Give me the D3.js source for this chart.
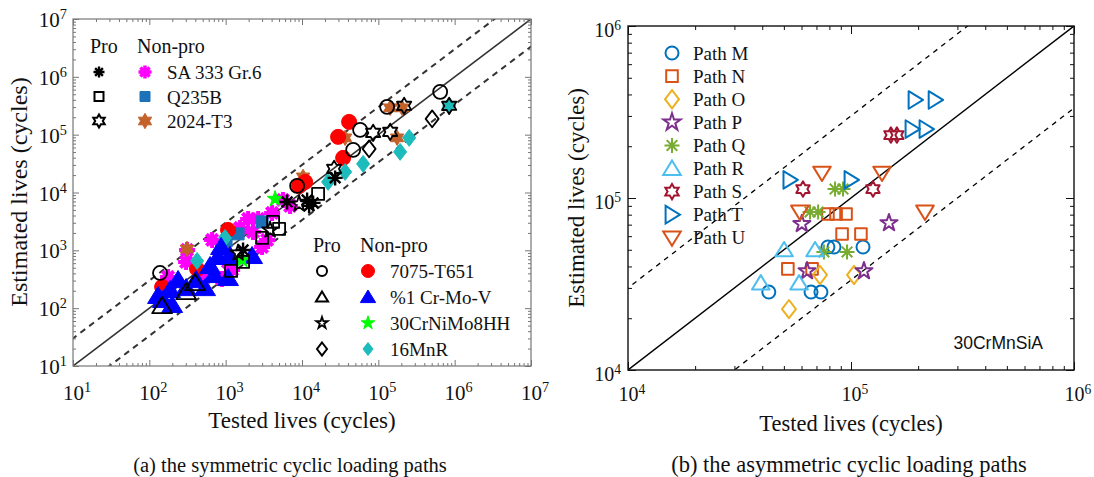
<!DOCTYPE html>
<html>
<head>
<meta charset="utf-8">
<script src="https://cdn.jsdelivr.net/npm/d3@7"></script>
<style>
  body { margin: 0; background: #fff; }
  svg text { font-family: "Liberation Serif", "Times New Roman", serif; fill: #111; }
</style>
</head>
<body>
<svg id="chart" width="1094" height="477"></svg>
<script>
// ---------- panel (a): symmetric paths, [tested, estimated] ----------
const saNon    = [[176,347],[303,630],[312,1016],[664,1514],[537,347],[897,320],[1213,458],[1968,3490],[2660,3490],[3490,1514],[3000,1146],[5650,7450],[6980,5860],[1545,2440],[1074,630],[2285,2080],[4055,4440]];
const saPro    = [[1690,1016],[6380,6870],[11670,7450],[13970,6610],[12390,5860],[27160,17900]];
const q235Non  = [[1455,1925],[1012,1455],[3000,3100]];
const q235Pro  = [[3000,1640],[4180,3100],[5010,2345],[16250,9460],[1178,441],[1690,630]];
const t3Non    = [[312,1057],[10330,18620],[36730,88100],[142900,291000],[205000,291000],[176200,88100]];
const t3Pro    = [[85500,107400],[142900,111700],[26360,25590],[847000,315000],[217600,315000]];
const t651Non  = [[41400,166400],[29700,91600],[34600,39700],[10990,15240],[9160,13000],[1074,2254],[147,233],[422,476]];
const t651Pro  = [[645700,550000],[130300,302700],[57700,121000],[46800,54600],[8630,13000],[138,406]];
const crmovNon = [[130,163],[187,207],[238,307],[199,114],[303,223],[537,223],[625,537],[795,770],[870,1146],[1143,800],[1074,333],[2218,800],[151,139],[409,307],[705,375]];
const crmovPro = [[147,109],[303,191],[397,273]];
const crniNon  = [[4440,7740],[1640,683]];
const crniPro  = [[1455,902],[3820,2254],[9160,6350]];
const mnrNon   = [[253600,88100],[193000,50400],[63200,31300],[36700,22700],[21980,15240],[847000,315000],[422,656],[982,1640]];
const mnrPro   = [[507000,187600],[75700,56800]];

const legendTop    = ["SA 333 Gr.6", "Q235B", "2024-T3"];
const legendBottom = ["7075-T651", "%1 Cr-Mo-V", "30CrNiMo8HH", "16MnR"];

// ---------- panel (b): asymmetric paths, 30CrMnSiA ----------
const pathNames = ["Path M","Path N","Path O","Path P","Path Q","Path R","Path S","Path T","Path U"];
const pathM = [[42800,28400],[66200,28400],[73300,28400],[78800,51900],[83900,51900],[113200,51900]];
const pathN = [[52100,38700],[66900,38700],[78800,80800],[85700,80800],[95000,80800],[91200,61800],[110800,61800]];
const pathO = [[52700,22600],[72600,35700],[103200,35700]];
const pathP = [[60200,70700],[63500,37600],[114300,37600],[148000,71600]];
const pathQ = [[65500,82900],[71200,82900],[84800,112700],[92100,112700],[75600,48600],[96000,48600]];
const pathR = [[39400,32000],[50100,49900],[58500,32000],[69000,49900]];
const pathS = [[60900,112700],[125500,112700],[151000,232300],[160600,232300]];
const pathT = [[53200,127400],[100000,127400],[187700,251700],[216900,251700],[193700,371500],[238300,371500]];
const pathU = [[59000,82900],[74100,139700],[137800,139700],[214700,82900]];

const svg = d3.select("#chart");

// ---------- marker shapes ----------
function starPath(n, r, inner) {
  const pts = [];
  for (let i = 0; i < 2 * n; i++) {
    const a = -Math.PI / 2 + i * Math.PI / n;
    const rr = i % 2 ? r * inner : r;
    pts.push((rr * Math.cos(a)).toFixed(2) + "," + (rr * Math.sin(a)).toFixed(2));
  }
  return "M" + pts.join("L") + "Z";
}

function shape(type, r) {
  switch (type) {
    case "circle":    return `M${r},0A${r},${r} 0 1,1 ${-r},0A${r},${r} 0 1,1 ${r},0Z`;
    case "square":    return `M${-r},${-r}H${r}V${r}H${-r}Z`;
    case "diamond":   return `M0,${-r * 1.3}L${r},0L0,${r * 1.3}L${-r},0Z`;
    case "triangle":  return `M0,${-r}L${r * 1.1},${r * 0.8}L${-r * 1.1},${r * 0.8}Z`;
    case "down":      return `M0,${r}L${r * 1.1},${-r * 0.8}L${-r * 1.1},${-r * 0.8}Z`;
    case "right":     return `M${r},0L${-r * 0.8},${r * 1.1}L${-r * 0.8},${-r * 1.1}Z`;
    case "pentagram": return starPath(5, r * 1.2, 0.382);
    case "hexagram":  return starPath(6, r * 1.1, 0.577);
    case "asterisk": {
      let d = "";
      for (let i = 0; i < 4; i++) {
        const a = i * Math.PI / 4;
        const dx = (r * Math.cos(a)).toFixed(2), dy = (r * Math.sin(a)).toFixed(2);
        d += `M${-dx},${-dy}L${dx},${dy}`;
      }
      return d;
    }
  }
}

// ---------- axes helpers ----------
function decadeTicks(dom) {
  const major = [], minor = [];
  for (let e = Math.log10(dom[0]); e <= Math.log10(dom[1]); e++) {
    major.push(Math.pow(10, e));
    if (e < Math.log10(dom[1])) for (let m = 2; m <= 9; m++) minor.push(m * Math.pow(10, e));
  }
  return { major, minor };
}

function drawFrame(g, p, x, y, opt) {
  const t = decadeTicks(x.domain());
  const u = decadeTicks(y.domain());
  const defs = [
    [d3.axisBottom(x), `translate(0,${p.y1})`, t],
    [d3.axisTop(x),    `translate(0,${p.y0})`, t],
    [d3.axisLeft(y),   `translate(${p.x0},0)`, u],
    [d3.axisRight(y),  `translate(${p.x1},0)`, u]
  ];
  defs.forEach(([ax, tr, tk]) => {
    [[tk.major, opt.major], [tk.minor, opt.minor]].forEach(([vals, len]) => {
      g.append("g")
        .attr("transform", tr)
        .call(ax.tickValues(vals).tickSize(-len).tickFormat(""))
        .call(s => s.select(".domain").remove())
        .call(s => s.selectAll("line").attr("stroke", opt.color).attr("stroke-width", opt.width));
    });
  });
  g.append("rect")
    .attr("x", p.x0).attr("y", p.y0)
    .attr("width", p.x1 - p.x0).attr("height", p.y1 - p.y0)
    .attr("fill", "none").attr("stroke", opt.color).attr("stroke-width", opt.frame);

  // superscript decade labels
  const pow = (sel, v) => {
    sel.append("tspan").text("10");
    sel.append("tspan").attr("dy", "-0.55em").attr("font-size", "0.68em").text(Math.round(Math.log10(v)));
  };
  t.major.forEach(v => {
    g.append("text").attr("x", x(v) + 4).attr("y", p.y1 + opt.xlab)
      .attr("text-anchor", "middle").attr("font-size", opt.font).call(pow, v);
  });
  u.major.forEach(v => {
    g.append("text").attr("x", p.x0 - opt.ylab).attr("y", y(v) + opt.ydy)
      .attr("text-anchor", "end").attr("font-size", opt.font).call(pow, v);
  });
}

function refLines(g, p, x, y, dom, clipId, st) {
  g.append("clipPath").attr("id", clipId).append("rect")
    .attr("x", p.x0).attr("y", p.y0).attr("width", p.x1 - p.x0).attr("height", p.y1 - p.y0);
  const line = d3.line().x(d => x(d[0])).y(d => y(d[1]));
  [[1, null], [3, st.dash], [1 / 3, st.dash]].forEach(([f, dash]) => {
    g.append("path")
      .attr("clip-path", `url(#${clipId})`)
      .attr("d", line([[dom[0] / 3, dom[0] / 3 * f], [dom[1] * 3, dom[1] * 3 * f]]))
      .attr("fill", "none").attr("stroke", st.color)
      .attr("stroke-width", dash ? st.dashW : st.solidW)
      .attr("stroke-dasharray", dash);
  });
}

function drawPoints(g, x, y, s) {
  g.append("g").selectAll("path")
    .data(s.data)
    .join("path")
    .attr("transform", d => `translate(${x(d[0])},${y(d[1])})`)
    .attr("d", shape(s.shape, s.r))
    .attr("fill", s.fill || "none")
    .attr("stroke", s.stroke)
    .attr("stroke-width", s.sw)
    .attr("stroke-linejoin", "round");
}

// =============== panel (a) ===============
const pA = { x0: 73, x1: 531, y0: 19, y1: 366 };
const domA = [10, 1e7];
const xA = d3.scaleLog().domain(domA).range([pA.x0, pA.x1]);
const yA = d3.scaleLog().domain(domA).range([pA.y1, pA.y0]);
const gA = svg.append("g");

refLines(gA, pA, xA, yA, domA, "clipA", { color: "#333", dash: "6,5", solidW: 1.6, dashW: 2, });

const sw = 1.8;
const seriesA = [
  { data: saNon,    shape: "asterisk",  r: 8,   stroke: "#ff00ff", sw: 4 },
  { data: q235Non,  shape: "square",    r: 6,   fill: "#1c72b8", stroke: "#1c72b8", sw: 1 },
  { data: t3Non,    shape: "hexagram",  r: 7,   fill: "#c4622b", stroke: "#c4622b", sw: 1 },
  { data: t651Non,  shape: "circle",    r: 7.5, fill: "#ff0000", stroke: "#ff0000", sw: 1 },
  { data: mnrNon,   shape: "diamond",   r: 6.5, fill: "#1cbcbc", stroke: "#1cbcbc", sw: 1 },
  { data: crmovNon, shape: "triangle",  r: 9.5, fill: "#0000ff", stroke: "#0000ff", sw: 1 },
  { data: crniNon,  shape: "pentagram", r: 7,   fill: "#00ff00", stroke: "#00ff00", sw: 1 },
  { data: saPro,    shape: "asterisk",  r: 7.5, stroke: "#000", sw: 2.4 },
  { data: q235Pro,  shape: "square",    r: 6,   stroke: "#000", sw: sw },
  { data: t3Pro,    shape: "hexagram",  r: 7.5, stroke: "#000", sw: sw },
  { data: t651Pro,  shape: "circle",    r: 7,   stroke: "#000", sw: sw },
  { data: crmovPro, shape: "triangle",  r: 9,   stroke: "#000", sw: sw },
  { data: crniPro,  shape: "pentagram", r: 7,   stroke: "#000", sw: sw },
  { data: mnrPro,   shape: "diamond",   r: 6.5, stroke: "#000", sw: sw }
];
seriesA.forEach(s => drawPoints(gA, xA, yA, s));

drawFrame(gA, pA, xA, yA, { major: 6, minor: 3, color: "#777", width: 1, frame: 1.2,
  font: 21, xlab: 34, ylab: 6, ydy: 8 });

// legends of panel (a)
function legendBlock(g, x0, y0, names, proShapes, nonStyles, rowH) {
  g.append("text").attr("x", x0).attr("y", y0).attr("font-size", 20).text("Pro");
  g.append("text").attr("x", x0 + 47).attr("y", y0).attr("font-size", 20).text("Non-pro");
  names.forEach((n, i) => {
    const cy = y0 + 19 + i * rowH;
    const ps = proShapes[i], ns = nonStyles[i];
    g.append("path").attr("transform", `translate(${x0 + 9},${cy})`)
      .attr("d", shape(ps.shape, ps.r)).attr("fill", "none").attr("stroke", "#000").attr("stroke-width", ps.sw);
    g.append("path").attr("transform", `translate(${x0 + 55},${cy})`)
      .attr("d", shape(ns.shape, ns.r)).attr("fill", ns.fill || "none")
      .attr("stroke", ns.stroke).attr("stroke-width", ns.sw);
    g.append("text").attr("x", x0 + 77).attr("y", cy + 7).attr("font-size", 19).text(n);
  });
}
legendBlock(gA, 90, 53, legendTop,
  [{ shape: "asterisk", r: 5.5, sw: 2.4 }, { shape: "square", r: 4.5, sw: 2 }, { shape: "hexagram", r: 6, sw: 2 }],
  [{ shape: "asterisk", r: 6.5, stroke: "#ff00ff", sw: 3.5 },
   { shape: "square", r: 5, fill: "#1c72b8", stroke: "#1c72b8", sw: 1 },
   { shape: "hexagram", r: 7, fill: "#c4622b", stroke: "#c4622b", sw: 1 }], 24.5);
legendBlock(gA, 313, 252, legendBottom,
  [{ shape: "circle", r: 5, sw: 2 }, { shape: "triangle", r: 5.5, sw: 2 }, { shape: "pentagram", r: 5, sw: 1.8 }, { shape: "diamond", r: 5, sw: 2 }],
  [{ shape: "circle", r: 6.5, fill: "#ff0000", stroke: "#ff0000", sw: 1 },
   { shape: "triangle", r: 7, fill: "#0000ff", stroke: "#0000ff", sw: 1 },
   { shape: "pentagram", r: 6, fill: "#00ff00", stroke: "#00ff00", sw: 1 },
   { shape: "diamond", r: 5, fill: "#1cbcbc", stroke: "#1cbcbc", sw: 1 }], 26);

gA.append("text").attr("x", 302).attr("y", 428).attr("text-anchor", "middle")
  .attr("font-size", 23).text("Tested lives (cycles)");
gA.append("text").attr("transform", "translate(27,192) rotate(-90)").attr("text-anchor", "middle")
  .attr("font-size", 24).text("Estimated lives (cycles)");
gA.append("text").attr("x", 290).attr("y", 472).attr("text-anchor", "middle")
  .attr("font-size", 20.5).text("(a) the symmetric cyclic loading paths");

// =============== panel (b) ===============
const pB = { x0: 628, x1: 1074, y0: 26, y1: 370 };
const domB = [1e4, 1e6];
const xB = d3.scaleLog().domain(domB).range([pB.x0, pB.x1]);
const yB = d3.scaleLog().domain(domB).range([pB.y1, pB.y0]);
const gB = svg.append("g");

refLines(gB, pB, xB, yB, domB, "clipB", { color: "#000", dash: "5,5", solidW: 1.4, dashW: 1.3 });

const pathStyles = [
  { data: pathM, shape: "circle",    r: 6.5, stroke: "#0072bd" },
  { data: pathN, shape: "square",    r: 5.8, stroke: "#d95319" },
  { data: pathO, shape: "diamond",   r: 7,   stroke: "#edb120" },
  { data: pathP, shape: "pentagram", r: 7.5, stroke: "#7e2f8e" },
  { data: pathQ, shape: "asterisk",  r: 7.5, stroke: "#77ac30" },
  { data: pathR, shape: "triangle",  r: 8,   stroke: "#4dbeee" },
  { data: pathS, shape: "hexagram",  r: 7,   stroke: "#a2142f" },
  { data: pathT, shape: "right",     r: 8,   stroke: "#0072bd" },
  { data: pathU, shape: "down",      r: 8,   stroke: "#d95319" }
];
pathStyles.forEach(s => drawPoints(gB, xB, yB, Object.assign({ sw: 2 }, s)));

drawFrame(gB, pB, xB, yB, { major: 8, minor: 4, color: "#111", width: 1, frame: 1.4,
  font: 20, xlab: 31, ylab: 7, ydy: 11 });

// legend of panel (b)
pathNames.forEach((n, i) => {
  const cy = 53 + i * 23.1;
  const s = pathStyles[i];
  gB.append("path").attr("transform", `translate(672,${cy})`)
    .attr("d", shape(s.shape, s.r)).attr("fill", "none").attr("stroke", s.stroke).attr("stroke-width", 2);
  gB.append("text").attr("x", 693).attr("y", cy + 6.5).attr("font-size", 19).text(n);
});

gB.append("text").attr("x", 1043).attr("y", 349).attr("text-anchor", "end")
  .attr("font-size", 17.5).style("font-family", "'Liberation Sans', Arial, sans-serif").text("30CrMnSiA");

gB.append("text").attr("x", 851).attr("y", 431).attr("text-anchor", "middle")
  .attr("font-size", 22.5).text("Tested lives (cycles)");
gB.append("text").attr("transform", "translate(584,198) rotate(-90)").attr("text-anchor", "middle")
  .attr("font-size", 23).text("Estimated lives (cycles)");
gB.append("text").attr("x", 849).attr("y", 472).attr("text-anchor", "middle")
  .attr("font-size", 22.5).text("(b) the asymmetric cyclic loading paths");
</script>
</body>
</html>
